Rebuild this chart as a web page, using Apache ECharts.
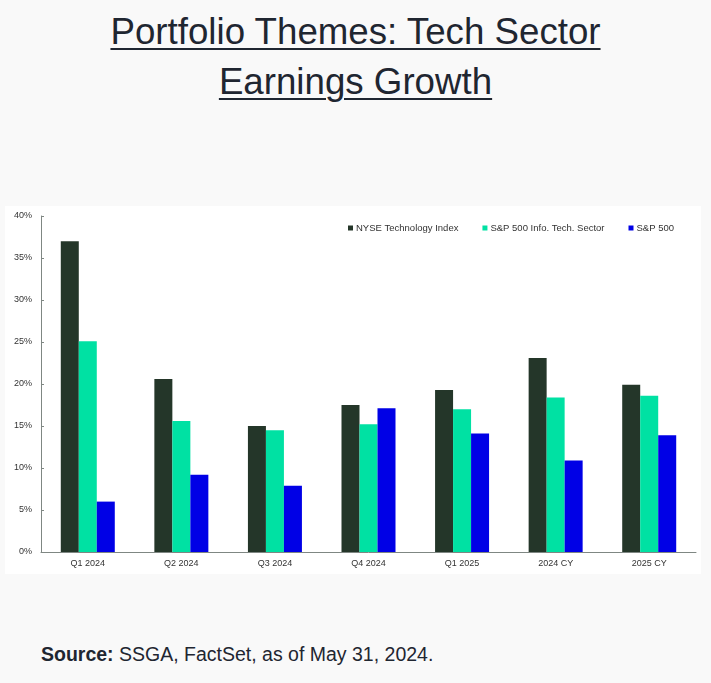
<!DOCTYPE html>
<html>
<head>
<meta charset="utf-8">
<script src="https://cdn.jsdelivr.net/npm/echarts@6/dist/echarts.min.js"></script>
<style>
  html, body { margin: 0; padding: 0; width: 711px; height: 683px; background: #f9f9f9; overflow: hidden; }
  #title { position: absolute; left: 0; top: 7px; width: 711px; text-align: center;
    font-family: "Liberation Sans", Arial, sans-serif; font-size: 36.7px; line-height: 50px;
    color: #1f2631; text-decoration: underline; text-decoration-thickness: 2px; text-underline-offset: 4px; }
  #chart { position: absolute; left: 5px; top: 206px; width: 696px; height: 368px; background: #ffffff; }
  #source { position: absolute; left: 41px; top: 643px; font-family: "Liberation Sans", Arial, sans-serif;
    font-size: 19.5px; color: #1f2631; }
</style>
</head>
<body>
<div id="title">Portfolio Themes: Tech Sector<br>Earnings Growth</div>
<div id="chart"></div>
<div id="source"><b>Source:</b> SSGA, FactSet, as of May 31, 2024.</div>
<script>
const categories = ["Q1 2024", "Q2 2024", "Q3 2024", "Q4 2024", "Q1 2025", "2024 CY", "2025 CY"];
const nyseTech = [37.0, 20.6, 15.0, 17.5, 19.3, 23.1, 19.9];
const spInfoTech = [25.1, 15.6, 14.5, 15.2, 17.0, 18.4, 18.6];
const sp500 = [6.0, 9.2, 7.9, 17.1, 14.1, 10.9, 13.9];
const seriesNames = ["NYSE Technology Index", "S&P 500 Info. Tech. Sector", "S&P 500"];

const chart = echarts.init(document.getElementById('chart'));
const font = '"Liberation Sans", Arial, sans-serif';
chart.setOption({
  animation: false,
  textStyle: { fontFamily: font },
  legend: {
    top: 12, right: 22, itemGap: 24, itemWidth: 5, itemHeight: 5, icon: 'rect',
    textStyle: { fontSize: 9.5, color: '#333', fontFamily: font, padding: [0, 0, 0, -2] },
    data: seriesNames
  },
  grid: { left: 36, right: 5, top: 10, bottom: 22, containLabel: false },
  xAxis: {
    type: 'category', data: categories,
    axisLine: { lineStyle: { color: '#7f8783', width: 1 } },
    axisTick: { inside: true, length: 3, lineStyle: { color: '#7f8783' } },
    axisLabel: { fontSize: 9, color: '#333', margin: 7, fontFamily: font }
  },
  yAxis: {
    type: 'value', min: 0, max: 40, interval: 5,
    axisLine: { show: true, lineStyle: { color: '#7f8783', width: 1 } },
    axisTick: { show: true, inside: true, length: 3, lineStyle: { color: '#7f8783' } },
    splitLine: { show: false },
    axisLabel: { fontSize: 9, color: '#333', margin: 9, formatter: '{value}%', fontFamily: font }
  },
  series: [
    { name: seriesNames[0], type: 'bar', data: nyseTech, barWidth: 18, barGap: '0%', itemStyle: { color: '#243629' } },
    { name: seriesNames[1], type: 'bar', data: spInfoTech, barWidth: 18, barGap: '0%', itemStyle: { color: '#00e1a3' } },
    { name: seriesNames[2], type: 'bar', data: sp500, barWidth: 18, barGap: '0%', itemStyle: { color: '#0000e6' } }
  ]
});
</script>
</body>
</html>
